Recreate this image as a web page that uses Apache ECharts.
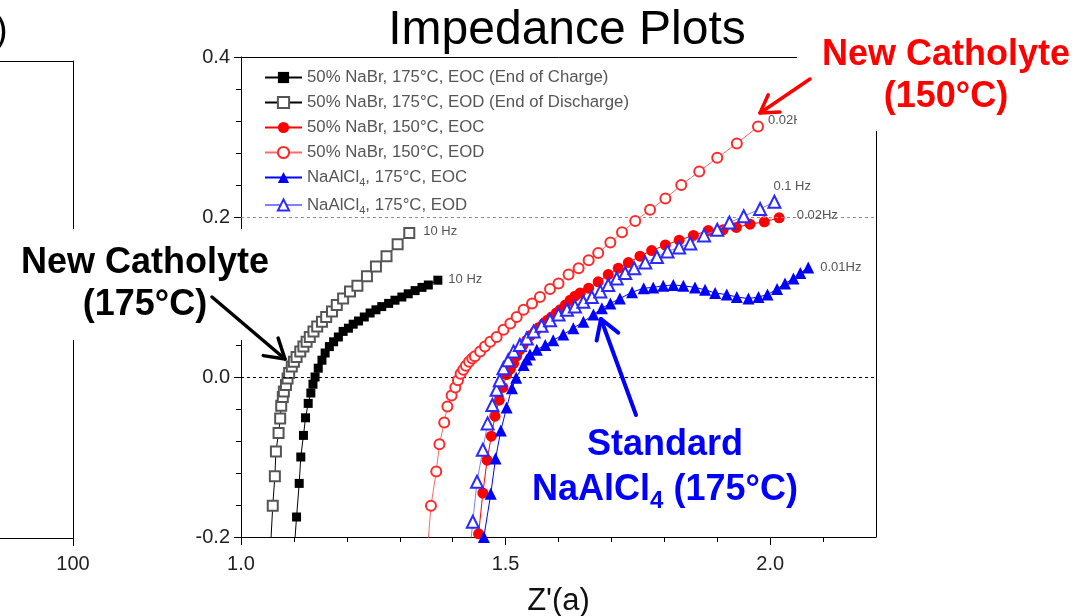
<!DOCTYPE html>
<html>
<head>
<meta charset="utf-8">
<script src="https://cdn.jsdelivr.net/npm/echarts@6/dist/echarts.min.js"></script>
<style>
  html, body { margin: 0; padding: 0; background: #fff; }
  #chart { width: 1081px; height: 616px; }
</style>
</head>
<body>
<div id="chart"></div>
<script>
const FONT = '"Liberation Sans", Arial, Helvetica, sans-serif';

// Nyquist data: [Z' real, Z'' imaginary]
const seriesNames = [
  '50% NaBr, 175°C, EOC (End of Charge)',
  '50% NaBr, 175°C, EOD (End of Discharge)',
  '50% NaBr, 150°C, EOC',
  '50% NaBr, 150°C, EOD',
  'NaAlCl4, 175°C, EOC',
  'NaAlCl4, 175°C, EOD'
];

const nabr175Eoc = [
  [1.099,-0.229],[1.105,-0.175],[1.110,-0.133],[1.113,-0.100],[1.118,-0.073],[1.122,-0.051],
  [1.127,-0.033],[1.132,-0.020],[1.136,-0.009],[1.140,0.000],[1.146,0.011],[1.153,0.021],
  [1.159,0.030],[1.167,0.038],[1.175,0.044],[1.184,0.050],[1.193,0.057],[1.203,0.061],
  [1.212,0.066],[1.222,0.070],[1.233,0.075],[1.244,0.080],[1.255,0.084],[1.266,0.088],
  [1.279,0.092],[1.291,0.096],[1.304,0.100],[1.316,0.104],[1.329,0.108],[1.342,0.112],
  [1.354,0.115],[1.372,0.121]
];

const nabr175Eod = [
  [1.054,-0.235],[1.060,-0.161],[1.064,-0.124],[1.066,-0.093],[1.071,-0.070],[1.074,-0.052],
  [1.076,-0.036],[1.079,-0.025],[1.081,-0.018],[1.085,-0.010],[1.088,-0.002],[1.091,0.005],
  [1.096,0.013],[1.100,0.019],[1.105,0.025],[1.112,0.032],[1.118,0.038],[1.124,0.044],
  [1.130,0.050],[1.137,0.057],[1.144,0.063],[1.153,0.069],[1.161,0.075],[1.172,0.082],
  [1.181,0.090],[1.193,0.098],[1.206,0.107],[1.220,0.114],[1.238,0.126],[1.255,0.138],
  [1.275,0.151],[1.296,0.166],[1.318,0.180]
];

const nabr150Eoc = [
  [1.441,-0.241],[1.449,-0.196],[1.457,-0.145],[1.465,-0.104],[1.473,-0.074],[1.480,-0.049],
  [1.488,-0.029],[1.495,-0.013],[1.502,0.003],[1.509,0.010],[1.515,0.017],[1.521,0.026],
  [1.527,0.034],[1.533,0.040],[1.540,0.046],[1.547,0.052],[1.556,0.057],[1.563,0.062],
  [1.572,0.067],[1.579,0.071],[1.587,0.075],[1.596,0.080],[1.603,0.084],[1.613,0.090],
  [1.622,0.096],[1.631,0.101],[1.641,0.105],[1.657,0.111],[1.675,0.119],[1.694,0.128],
  [1.713,0.136],[1.732,0.143],[1.754,0.151],[1.776,0.158],[1.802,0.165],[1.828,0.171],
  [1.855,0.177],[1.883,0.183],[1.911,0.184],[1.936,0.187],[1.962,0.191],[1.989,0.194],
  [2.017,0.199]
];

const nabr150Eod = [
  [1.350,-0.235],[1.359,-0.161],[1.369,-0.118],[1.375,-0.084],[1.384,-0.057],[1.390,-0.037],
  [1.398,-0.023],[1.405,-0.013],[1.410,-0.004],[1.415,0.004],[1.420,0.009],[1.425,0.014],
  [1.431,0.019],[1.437,0.023],[1.442,0.026],[1.452,0.032],[1.461,0.038],[1.471,0.044],
  [1.483,0.050],[1.496,0.059],[1.509,0.067],[1.521,0.075],[1.534,0.084],[1.550,0.092],
  [1.565,0.100],[1.584,0.110],[1.600,0.117],[1.619,0.128],[1.638,0.136],[1.657,0.146],
  [1.675,0.155],[1.698,0.168],[1.720,0.181],[1.745,0.195],[1.773,0.209],[1.802,0.223],
  [1.832,0.240],[1.866,0.257],[1.900,0.274],[1.937,0.292],[1.977,0.313]
];

const alcl175Eoc = [
  [1.454,-0.241],[1.459,-0.200],[1.472,-0.146],[1.481,-0.102],[1.491,-0.067],[1.502,-0.038],
  [1.512,-0.014],[1.520,-0.001],[1.534,0.015],[1.540,0.022],[1.546,0.028],[1.559,0.034],
  [1.575,0.040],[1.590,0.046],[1.609,0.053],[1.628,0.061],[1.647,0.069],[1.666,0.078],
  [1.682,0.086],[1.698,0.092],[1.716,0.098],[1.739,0.106],[1.761,0.111],[1.779,0.112],
  [1.798,0.114],[1.817,0.115],[1.836,0.114],[1.858,0.112],[1.877,0.109],[1.896,0.105],
  [1.918,0.103],[1.937,0.100],[1.959,0.098],[1.978,0.100],[1.995,0.103],[2.013,0.110],
  [2.028,0.117],[2.044,0.123],[2.057,0.130],[2.072,0.137]
];

const alcl175Eod = [
  [1.429,-0.241],[1.438,-0.181],[1.446,-0.131],[1.457,-0.091],[1.466,-0.058],[1.475,-0.035],
  [1.483,-0.016],[1.489,-0.004],[1.496,0.011],[1.505,0.021],[1.515,0.032],[1.527,0.040],
  [1.540,0.048],[1.553,0.057],[1.568,0.064],[1.584,0.071],[1.600,0.078],[1.616,0.084],
  [1.631,0.088],[1.647,0.094],[1.663,0.100],[1.679,0.107],[1.694,0.115],[1.710,0.123],
  [1.726,0.130],[1.743,0.136],[1.764,0.143],[1.786,0.150],[1.806,0.157],[1.828,0.162],
  [1.849,0.167],[1.875,0.177],[1.900,0.184],[1.923,0.193],[1.950,0.201],[1.981,0.210],
  [2.008,0.219]
];

// lowest measured frequency at the end of each sweep
const endFreqLabels = ['10 Hz', '10 Hz', '0.02Hz', '0.02Hz', '0.01Hz', '0.1 Hz'];

const xTickValues = [1.0, 1.5, 2.0];
const xMinorTicks = [1.1, 1.2, 1.3, 1.4, 1.6, 1.7, 1.8, 1.9, 2.1];
const yTickValues = [-0.2, 0.0, 0.2, 0.4];
const yMinorTicks = [-0.16, -0.12, -0.08, -0.04, 0.04, 0.08, 0.12, 0.16, 0.24, 0.28, 0.32, 0.36];
const refLines = [0.2, 0.0];
const leftPanelTicks = [100];

const dataSets = [nabr175Eoc, nabr175Eod, nabr150Eoc, nabr150Eod, alcl175Eoc, alcl175Eod];

const markerStyles = [
  { symbol: 'rect',          size: 9,  color: '#000000', line: '#000000' },
  { symbol: 'emptyRect',     size: 10, color: '#555555', line: '#000000' },
  { symbol: 'circle',        size: 11, color: '#ff0000', line: '#ff0000' },
  { symbol: 'emptyCircle',   size: 10, color: '#ff2a2a', line: '#ff6a6a' },
  { symbol: 'triangle',      size: 12, color: '#0000ff', line: '#0000ff' },
  { symbol: 'emptyTriangle', size: 12, color: '#2a2aff', line: '#8080ff' }
];

const endLabelPlacement = [
  { position: 'right', distance: 6, offset: [0, -1] },
  { position: 'right', distance: 8, offset: [0, -2] },
  { position: 'right', distance: 12, offset: [0, -2] },
  { position: 'right', distance: 4, offset: [0, -6] },
  { position: 'right', distance: 6, offset: [0, 0] },
  { position: 'right', distance: 0, offset: [-8, -15] }
];

const series = dataSets.map((pts, i) => {
  const st = markerStyles[i];
  const s = {
    type: 'line',
    name: seriesNames[i],
    xAxisIndex: 0,
    yAxisIndex: 0,
    clip: true,
    z: 2 + i,
    symbol: st.symbol,
    symbolSize: st.size,
    showAllSymbol: true,
    itemStyle: { color: st.color, borderWidth: 1 },
    lineStyle: { color: st.line, width: 1 },
    emphasis: { disabled: true },
    data: pts.map((p, j) => j === pts.length - 1
      ? { value: p, label: Object.assign({
          show: true, formatter: endFreqLabels[i], color: '#555', fontSize: 13, fontFamily: FONT
        }, endLabelPlacement[i]) }
      : p)
  };
  if (i === 0) {
    s.markLine = {
      silent: true,
      symbol: ['none', 'none'],
      label: { show: false },
      lineStyle: { type: [3, 3], width: 1 },
      data: [
        { yAxis: refLines[0], lineStyle: { color: '#8c8c8c' } },
        { yAxis: refLines[1], lineStyle: { color: '#000000' } }
      ]
    };
  }
  return s;
});

function arrow(tail, tip, color, width, head, spread) {
  const a = Math.atan2(tip[1] - tail[1], tip[0] - tail[0]);
  const arm = s => [tip[0] - head * Math.cos(a + s), tip[1] - head * Math.sin(a + s)];
  const style = { stroke: color, lineWidth: width, lineCap: 'round', lineJoin: 'round', fill: null };
  return [
    { type: 'polyline', z: 110, shape: { points: [tail, tip] }, style },
    { type: 'polyline', z: 110, shape: { points: [arm(spread), tip, arm(-spread)] }, style }
  ];
}

const chart = echarts.init(document.getElementById('chart'), null, { renderer: 'canvas' });

const axisLineBlack = { show: true, onZero: false, lineStyle: { color: '#000', width: 1 } };

chart.setOption({
  animation: false,
  backgroundColor: '#fff',
  textStyle: { fontFamily: FONT },
  grid: [
    { left: 241, top: 57, right: 205, bottom: 79, containLabel: false, outerBoundsMode: 'none' },
    { left: -400, top: 61, right: 1008, bottom: 78, containLabel: false, outerBoundsMode: 'none' }
  ],
  legend: {
    orient: 'vertical',
    left: 264,
    top: 69,
    padding: 0,
    itemWidth: 37,
    itemHeight: 14,
    itemGap: 8,
    selectedMode: false,
    data: seriesNames,
    formatter: name => name.startsWith('NaAlCl4')
      ? '{n|NaAlCl}{s|4}{n|' + name.slice(7) + '}'
      : '{n|' + name + '}',
    textStyle: {
      fontFamily: FONT,
      rich: {
        n: { fontSize: 16.8, color: '#555', lineHeight: 22, verticalAlign: 'middle', fontFamily: FONT },
        s: { fontSize: 11, color: '#555', lineHeight: 12, verticalAlign: 'bottom', fontFamily: FONT }
      }
    }
  },
  xAxis: [
    {
      gridIndex: 0, type: 'value', min: 1.0, max: 2.2, position: 'bottom',
      axisLine: axisLineBlack,
      axisTick: { show: true, customValues: xTickValues, length: 8, lineStyle: { color: '#000' } },
      axisLabel: { customValues: xTickValues, formatter: v => v.toFixed(1), fontSize: 20, color: '#222', margin: 17, fontFamily: FONT },
      splitLine: { show: false },
      name: "Z'(a)", nameLocation: 'middle', nameGap: 49,
      nameTextStyle: { fontSize: 31, color: '#111', fontFamily: FONT }
    },
    {
      gridIndex: 0, type: 'value', min: 1.0, max: 2.2, position: 'bottom',
      axisLine: { show: false, onZero: false },
      axisTick: { show: true, customValues: xMinorTicks, length: 5, lineStyle: { color: '#000' } },
      axisLabel: { show: false },
      splitLine: { show: false }
    },
    {
      gridIndex: 0, type: 'value', min: 1.0, max: 2.2, position: 'top',
      axisLine: axisLineBlack, axisTick: { show: false }, axisLabel: { show: false }, splitLine: { show: false }
    },
    {
      gridIndex: 1, type: 'value', min: 0, max: 100, position: 'bottom',
      axisLine: axisLineBlack,
      axisTick: { show: true, customValues: leftPanelTicks, length: 8, lineStyle: { color: '#000' } },
      axisLabel: { customValues: leftPanelTicks, fontSize: 20, color: '#222', margin: 16, fontFamily: FONT },
      splitLine: { show: false }
    },
    {
      gridIndex: 1, type: 'value', min: 0, max: 100, position: 'top',
      axisLine: axisLineBlack, axisTick: { show: false }, axisLabel: { show: false }, splitLine: { show: false }
    }
  ],
  yAxis: [
    {
      gridIndex: 0, type: 'value', min: -0.2, max: 0.4, position: 'left',
      axisLine: axisLineBlack,
      axisTick: { show: true, customValues: yTickValues, length: 7, lineStyle: { color: '#000' } },
      axisLabel: { customValues: yTickValues, formatter: v => v.toFixed(1), fontSize: 20, color: '#222', margin: 11, fontFamily: FONT },
      splitLine: { show: false }
    },
    {
      gridIndex: 0, type: 'value', min: -0.2, max: 0.4, position: 'left',
      axisLine: { show: false, onZero: false },
      axisTick: { show: true, customValues: yMinorTicks, length: 5, lineStyle: { color: '#000' } },
      axisLabel: { show: false },
      splitLine: { show: false }
    },
    {
      gridIndex: 0, type: 'value', min: -0.2, max: 0.4, position: 'right',
      axisLine: axisLineBlack, axisTick: { show: false }, axisLabel: { show: false }, splitLine: { show: false }
    },
    {
      gridIndex: 1, type: 'value', min: 0, max: 1, position: 'right',
      axisLine: axisLineBlack, axisTick: { show: false }, axisLabel: { show: false }, splitLine: { show: false }
    }
  ],
  series: series,
  graphic: [
    // panel title
    { type: 'text', z: 100, style: { x: 567, y: 31, text: 'Impedance Plots', fill: '#000',
        font: '48px ' + FONT, align: 'center', verticalAlign: 'middle' } },
    // tail of the neighbouring panel title
    { type: 'text', z: 100, style: { x: -5, y: 32, text: ')', fill: '#000',
        font: '38px ' + FONT, align: 'left', verticalAlign: 'middle' } },
    // callout backgrounds
    { type: 'rect', z: 100, shape: { x: 797, y: 0, width: 284, height: 131 }, style: { fill: '#fff' } },
    { type: 'rect', z: 100, shape: { x: 8, y: 229, width: 270, height: 111 }, style: { fill: '#fff' } },
    // callouts
    { type: 'text', z: 105, style: { x: 946, y: 76, text: 'New Catholyte\n(150°C)', fill: '#ff0000',
        font: 'bold 36px ' + FONT, align: 'center', verticalAlign: 'middle', lineHeight: 42 } },
    { type: 'text', z: 105, style: { x: 145, y: 284, text: 'New Catholyte\n(175°C)', fill: '#000',
        font: 'bold 36px ' + FONT, align: 'center', verticalAlign: 'middle', lineHeight: 42 } },
    { type: 'text', z: 105, style: { x: 665, y: 468, align: 'center', verticalAlign: 'middle',
        text: '{b|Standard}\n{b|NaAlCl}{s|4}{b| (175°C)}',
        rich: {
          b: { fontSize: 36, fontWeight: 'bold', fontFamily: FONT, fill: '#0000ff', lineHeight: 45, verticalAlign: 'middle' },
          s: { fontSize: 24, fontWeight: 'bold', fontFamily: FONT, fill: '#0000ff', lineHeight: 26, verticalAlign: 'bottom' }
        } } },
    ...arrow([810, 79], [760, 113], '#ff0000', 3.5, 20, 0.55),
    ...arrow([212, 297], [285, 359], '#000000', 3.5, 22, 0.55),
    ...arrow([636, 415], [601, 319], '#0000ff', 4, 22, 0.55)
  ]
});
</script>
</body>
</html>
